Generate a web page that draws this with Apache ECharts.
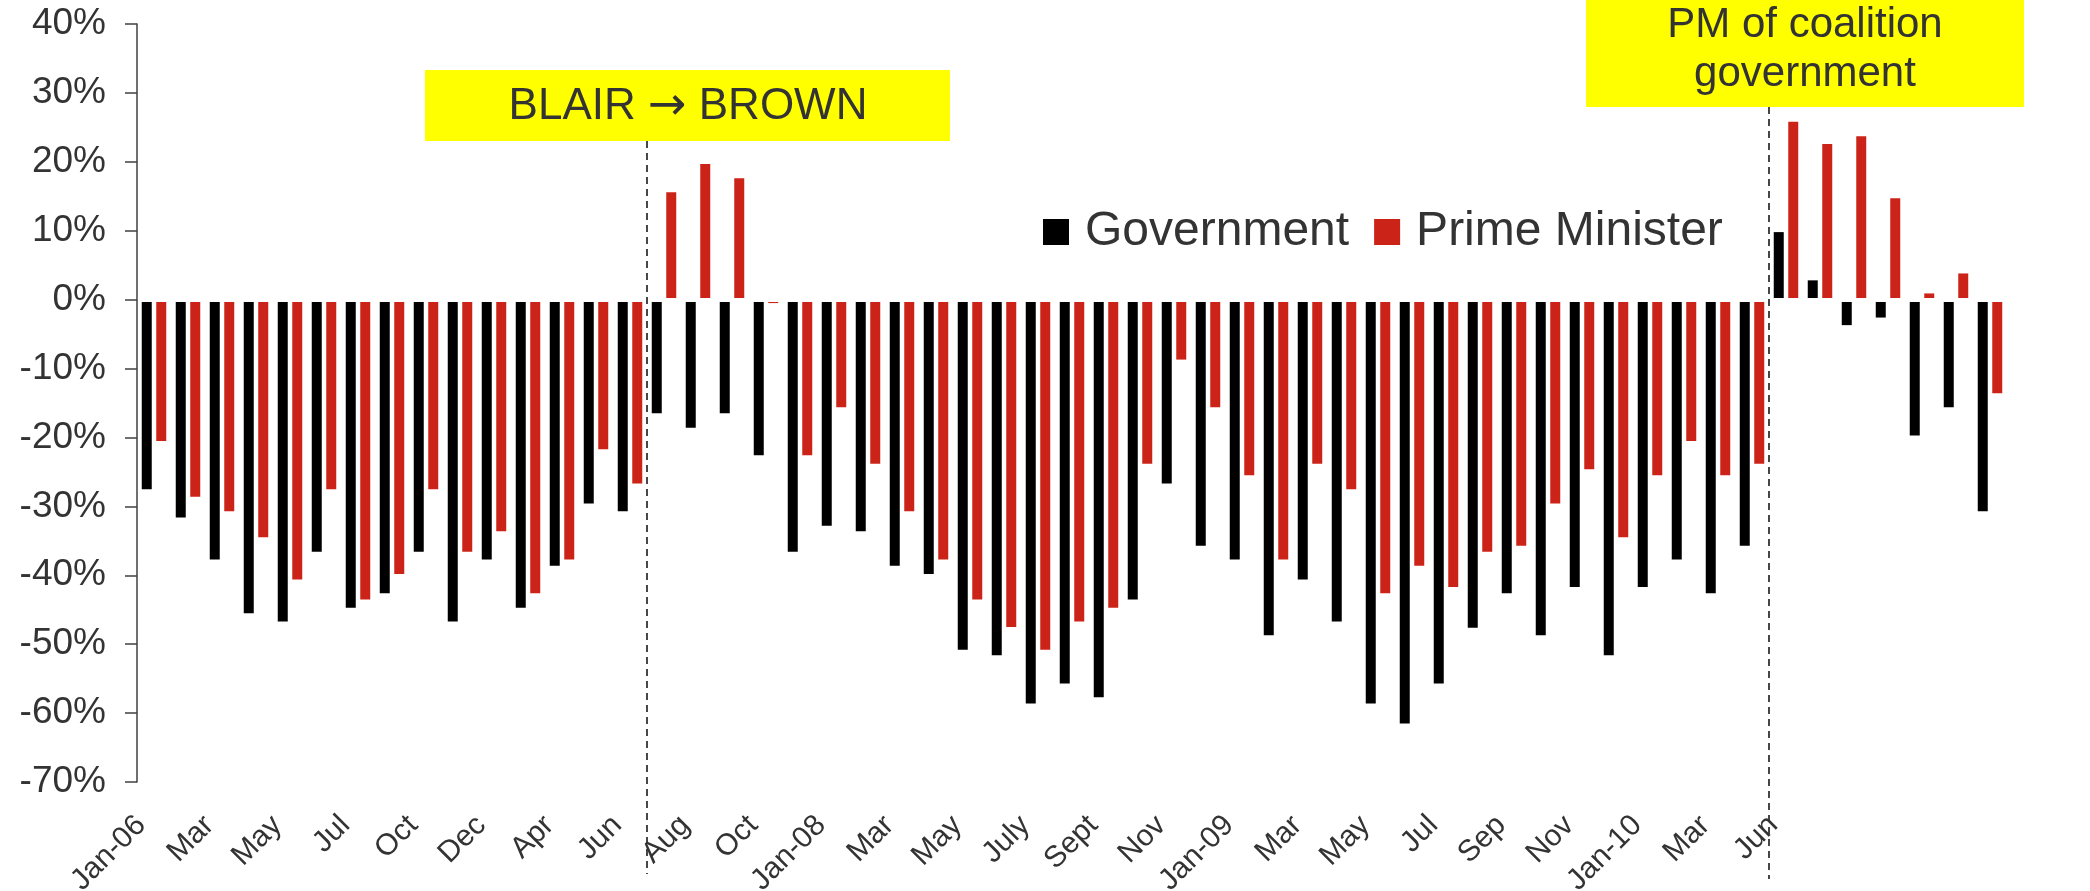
<!DOCTYPE html>
<html>
<head>
<meta charset="utf-8">
<title>Government and Prime Minister ratings</title>
<script src="https://cdn.jsdelivr.net/npm/echarts@6.0.0/dist/echarts.min.js"></script>
<style>
	html, body { margin: 0; padding: 0; background: #fff; }
	#chart { width: 2090px; height: 891px; }
</style>
</head>
<body>
<div id="chart"></div>
<script>
	/* months (only every other one is labelled) */
	var months = [
		'Jan-06', 'Feb', 'Mar', 'Apr', 'May', 'Jun', 'Jul', 'Sep', 'Oct', 'Nov',
		'Dec', 'Mar', 'Apr', 'May', 'Jun', 'Jul', 'Aug', 'Sep', 'Oct', 'Dec',
		'Jan-08', 'Feb', 'Mar', 'Apr', 'May', 'Jun', 'July', 'Aug', 'Sept', 'Oct',
		'Nov', 'Dec', 'Jan-09', 'Feb', 'Mar', 'Apr', 'May', 'Jun', 'Jul', 'Aug',
		'Sep', 'Oct', 'Nov', 'Dec', 'Jan-10', 'Feb', 'Mar', 'May', 'Jun', '',
		'', '', '', '', ''
	];

	var govData = [
		-27.5, -31.6, -37.7, -45.5, -46.7, -36.6, -44.7, -42.6, -36.6, -46.7,
		-37.7, -44.7, -38.6, -29.6, -30.7, -16.5, -18.6, -16.5, -22.6, -36.6,
		-32.8, -33.6, -38.6, -39.8, -50.8, -51.6, -58.6, -55.7, -57.7, -43.5,
		-26.7, -35.7, -37.7, -48.7, -40.6, -46.7, -58.6, -61.5, -55.7, -47.6,
		-42.6, -48.7, -41.7, -51.6, -41.7, -37.7, -42.6, -35.7, 9.8, 2.8,
		-3.7, -2.6, -19.7, -15.6, -30.7
	];

	var pmData = [
		-20.5, -28.6, -30.7, -34.5, -40.6, -27.5, -43.5, -39.8, -27.5, -36.6,
		-33.6, -42.6, -37.7, -21.7, -26.7, 15.6, 19.7, 17.6, -0.5, -22.6,
		-15.6, -23.8, -30.7, -37.7, -43.5, -47.5, -50.8, -46.7, -44.7, -23.8,
		-8.7, -15.6, -25.5, -37.7, -23.8, -27.5, -42.6, -38.6, -41.7, -36.6,
		-35.7, -29.6, -24.6, -34.5, -25.5, -20.5, -25.5, -23.8, 25.8, 22.6,
		23.7, 14.7, 0.9, 3.8, -13.6
	];

	var yMin = -70;
	var yMax = 40;
	var yStep = 10;

	var font = '"Liberation Sans", Arial, Helvetica, sans-serif';
	var textColor = '#333';

	var option = {
		backgroundColor: '#fff',
		animation: false,
		textStyle: { fontFamily: font },
		color: ['#000000', '#cc2318'],
		legend: {
			data: ['Government', 'Prime Minister'],
			left: 1043,
			top: 208,
			padding: 0,
			icon: 'rect',
			itemWidth: 26,
			itemHeight: 26,
			itemGap: 25,
			textStyle: {
				fontSize: 48,
				color: textColor,
				fontFamily: font,
				padding: [0, 0, 0, 11]
			}
		},
		grid: {
			left: 137,
			right: 83,
			top: 24,
			bottom: 109,
			containLabel: false,
			outerBoundsMode: 'none'
		},
		xAxis: {
			type: 'category',
			data: months,
			axisLine: { show: false, onZero: false },
			axisTick: { show: false },
			axisLabel: {
				interval: 1,
				rotate: 45,
				margin: 26,
				padding: [0, 18, 0, 0],
				fontSize: 30,
				color: textColor,
				fontFamily: font
			},
			splitLine: { show: false }
		},
		yAxis: {
			type: 'value',
			min: yMin,
			max: yMax,
			interval: yStep,
			z: 10,
			axisLine: { show: true, lineStyle: { color: '#404040', width: 1.5 } },
			axisTick: { show: true, length: 12, lineStyle: { color: '#404040', width: 1.5 } },
			axisLabel: {
				formatter: '{value}%',
				fontSize: 37,
				margin: 31,
				color: textColor,
				fontFamily: font
			},
			splitLine: { show: false }
		},
		series: [{
			name: 'Government',
			type: 'bar',
			barWidth: 10,
			barGap: '45%',
			data: govData,
			markLine: {
				silent: true,
				symbol: 'none',
				label: { show: false },
				lineStyle: { color: '#fff', width: 4, type: 'solid' },
				data: [{ yAxis: 0 }]
			}
		}, {
			name: 'Prime Minister',
			type: 'bar',
			barWidth: 10,
			data: pmData
		}]
	};

	var chart = echarts.init(document.getElementById('chart'), null, { renderer: 'canvas' });
	chart.setOption(option);

	// annotation boxes and the dashed separators between categories
	function boundaryX(idx) {
		var a = chart.convertToPixel({ xAxisIndex: 0 }, 0);
		var b = chart.convertToPixel({ xAxisIndex: 0 }, 1);
		var p = chart.convertToPixel({ xAxisIndex: 0 }, idx);
		return p - (b - a) / 2;
	}

	var blairX = boundaryX(15);
	var coalitionX = boundaryX(48);

	chart.setOption({
		graphic: [{
			type: 'line',
			shape: { x1: blairX, y1: 141, x2: blairX, y2: 874 },
			style: { stroke: '#333', lineWidth: 1.8, lineDash: [7, 5] },
			z: 20
		}, {
			type: 'line',
			shape: { x1: coalitionX, y1: 107, x2: coalitionX, y2: 879 },
			style: { stroke: '#333', lineWidth: 1.8, lineDash: [7, 5] },
			z: 20
		}, {
			type: 'rect',
			shape: { x: 425, y: 70, width: 525, height: 71 },
			style: { fill: '#ffff00' },
			z: 21
		}, {
			type: 'text',
			x: 688,
			y: 107,
			style: {
				text: '{t|BLAIR }{a|\u2192}{t| BROWN}',
				fill: textColor,
				align: 'center',
				verticalAlign: 'middle',
				rich: {
					t: { fontSize: 44, fontFamily: font, fill: textColor },
					a: { fontSize: 46, fontFamily: '"DejaVu Sans", sans-serif', fill: textColor }
				}
			},
			z: 22
		}, {
			type: 'rect',
			shape: { x: 1586, y: 0, width: 438, height: 107 },
			style: { fill: '#ffff00' },
			z: 21
		}, {
			type: 'text',
			x: 1805,
			y: 50,
			style: {
				text: 'PM of coalition\ngovernment',
				fill: textColor,
				font: '42px ' + font,
				lineHeight: 49,
				align: 'center',
				verticalAlign: 'middle'
			},
			z: 22
		}]
	});

	window.addEventListener('resize', function() {
		chart.resize();
	});
</script>
</body>
</html>
